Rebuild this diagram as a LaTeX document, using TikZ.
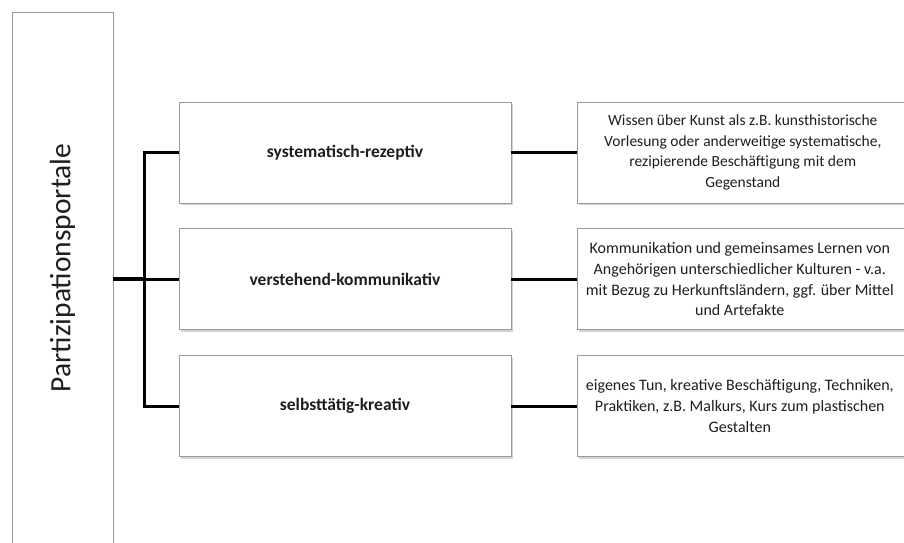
\documentclass[tikz,border=0pt]{standalone}
\usepackage{fontspec}
\setmainfont{Carlito}
\usepackage{xcolor}
\usepackage{tikz}
\usetikzlibrary{positioning, shadows}
\definecolor{ppgray}{HTML}{9A9A9A}
\definecolor{pptext}{HTML}{1E1E1E}
\tikzset{
  portbox/.style={rectangle, draw=ppgray, thick, fill=white,
    minimum width=101pt, minimum height=556pt, inner sep=0pt},
  porttext/.style={rotate=90, font=\fontsize{29.5}{34}\selectfont, text=pptext},
  catbox/.style={rectangle, draw=ppgray, thick, fill=white,
    drop shadow={shadow xshift=1.5pt, shadow yshift=-2pt, opacity=.35},
    minimum width=332pt, minimum height=101pt, inner sep=0pt,
    font=\fontsize{17.5}{21}\selectfont\bfseries, text=pptext},
  descbox/.style={rectangle, draw=ppgray, thick, fill=white,
    drop shadow={shadow xshift=1.5pt, shadow yshift=-2pt, opacity=.35},
    minimum width=330pt, minimum height=101pt, inner sep=0pt},
  desctext/.style={align=center, text=pptext,
    font=\fontsize{15.5}{20.7}\selectfont},
  widetext/.style={desctext, font=\fontsize{16}{20.7}\selectfont},
  link/.style={line width=2.8pt, black},
  trunk/.style={line width=4pt, black},
}
\begin{document}
\begin{tikzpicture}[x=1pt, y=-1pt, node distance=25pt]
  \useasboundingbox (0,0) rectangle (904,542);
  \clip (0,0) rectangle (904,542);

  \node[portbox] (portal) at (62.5,290) {};
  \node[porttext] (ptext) at (62.5,268) {Partizipationsportale};

  \node[catbox] (sys) at (345,152.5) {systematisch-rezeptiv};
  \node[catbox, below=25pt of sys] (ver) {verstehend-kommunikativ};
  \node[catbox, below=25pt of ver] (sel) {selbsttätig-kreativ};

  \node[descbox, right=66pt of sys, label={[desctext]center:Wissen über Kunst als z.B. kunsthistorische\\Vorlesung oder anderweitige systematische,\\rezipierende Beschäftigung mit dem\\Gegenstand}] (sysd) {};
  \node[descbox, right=66pt of ver, label={[widetext, xshift=-3pt]center:Kommunikation und gemeinsames Lernen von\\Angehörigen unterschiedlicher Kulturen - v.a.\\mit Bezug zu Herkunftsländern, ggf. über Mittel\\und Artefakte}] (verd) {};
  \node[descbox, right=66pt of sel, label={[widetext, xshift=-3pt]center:eigenes Tun, kreative Beschäftigung, Techniken,\\Praktiken, z.B.  Malkurs, Kurs zum plastischen\\Gestalten}] (seld) {};

  \path (ver.west) ++(-34,0) coordinate (fork);
  \draw[trunk] (portal.east |- fork) -- (fork);
  \draw[link] (sys.west) -| (fork) |- (sel.west);
  \draw[link] (fork) -- (ver.west);
  \draw[link] (sys) -- (sysd);
  \draw[link] (ver) -- (verd);
  \draw[link] (sel) -- (seld);
\end{tikzpicture}
\end{document}
